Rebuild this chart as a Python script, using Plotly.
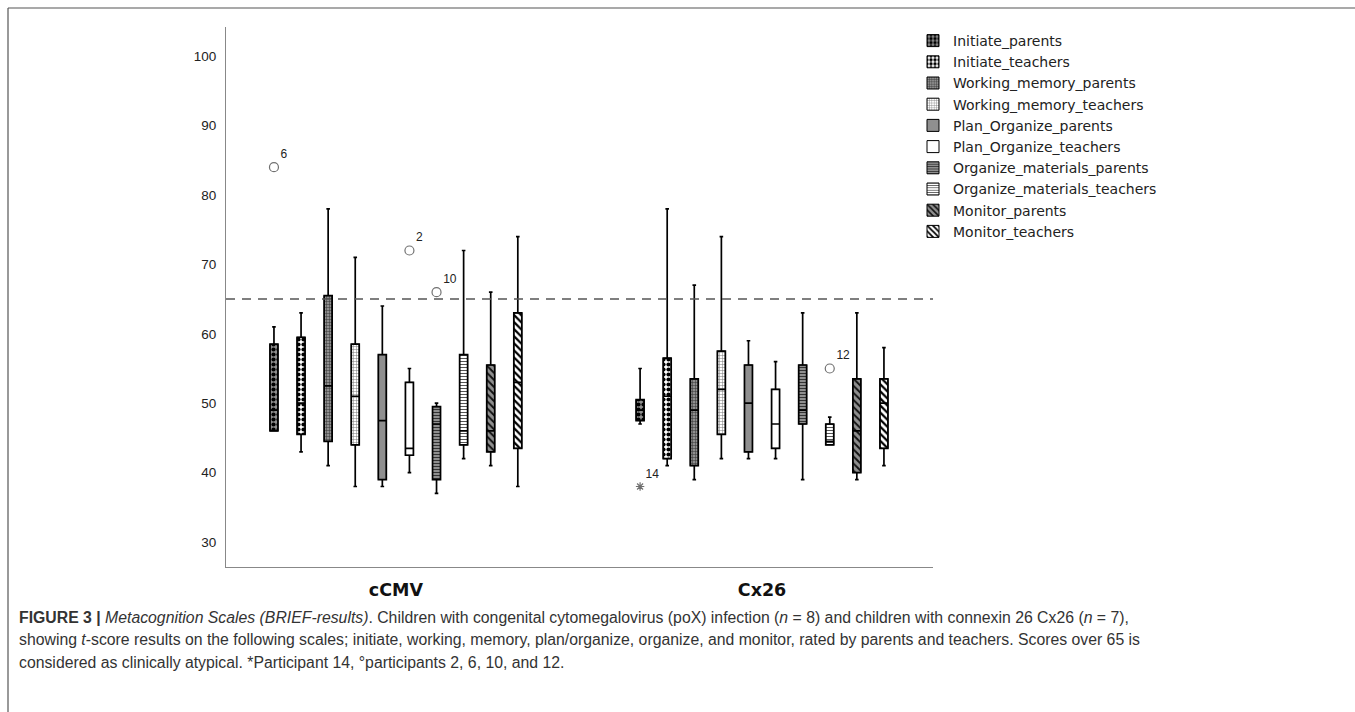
import plotly.graph_objects as go

groups = ["cCMV", "Cx26"]
series = ["Initiate_parents", "Initiate_teachers", "Working_memory_parents", "Working_memory_teachers",
          "Plan_Organize_parents", "Plan_Organize_teachers", "Organize_materials_parents",
          "Organize_materials_teachers", "Monitor_parents", "Monitor_teachers"]

# per series: [cCMV, Cx26]
lowerfence = [[46, 47], [43, 41], [41, 39], [38, 42], [38, 42], [40, 42], [37, 39], [42, 44], [41, 39], [38, 41]]
q1 =         [[46, 47.5], [45.5, 42], [44.5, 41], [44, 45.5], [39, 43], [42.5, 43.5], [39, 47], [44, 44], [43, 40], [43.5, 43.5]]
median =     [[49, 49], [50, 51], [52.5, 49], [51, 52], [47.5, 50], [43.5, 47], [47, 49], [46, 44.5], [46, 46], [53, 50]]
q3 =         [[58.5, 50.5], [59.5, 56.5], [65.5, 53.5], [58.5, 57.5], [57, 55.5], [53, 52], [49.5, 55.5], [57, 47], [55.5, 53.5], [63, 53.5]]
upperfence = [[61, 55], [63, 78], [78, 67], [71, 74], [64, 59], [55, 56], [50, 63], [72, 48], [66, 63], [74, 58]]

# outliers: value and participant label per series [cCMV, Cx26]
out_vals = [[84, 38], [None, None], [None, None], [None, None], [None, None],
            [72, None], [66, None], [None, 55], [None, None], [None, None]]
out_labels = [["6", "14"], ["", ""], ["", ""], ["", ""], ["", ""],
              ["2", ""], ["10", ""], ["", "12"], ["", ""], ["", ""]]
out_extreme = [[False, True]] + [[False, False]] * 9

cutoff = 65
y_ticks = [30, 40, 50, 60, 70, 80, 90, 100]

caption_lines = [
    "<b>FIGURE 3 |</b> <i>Metacognition Scales (BRIEF-results)</i>. Children with congenital cytomegalovirus (poX) infection (<i>n</i> = 8) and children with connexin 26 Cx26 (<i>n</i> = 7),",
    "showing <i>t</i>-score results on the following scales; initiate, working, memory, plan/organize, organize, and monitor, rated by parents and teachers. Scores over 65 is",
    "considered as clinically atypical. *Participant 14, °participants 2, 6, 10, and 12.",
]

GRAY = "#8f8f8f"
WHITE = "#ffffff"
styles = [
    dict(shape=".", bg=GRAY, fg="#000000", size=5, solidity=0.55),
    dict(shape=".", bg=WHITE, fg="#000000", size=5, solidity=0.55),
    dict(shape="+", bg=GRAY, fg="#333333", size=3, solidity=0.3),
    dict(shape="+", bg=WHITE, fg="#777777", size=3, solidity=0.3),
    dict(shape="", bg=GRAY, fg=GRAY, size=4, solidity=0.3),
    dict(shape="", bg=WHITE, fg=WHITE, size=4, solidity=0.3),
    dict(shape="-", bg=GRAY, fg="#333333", size=3, solidity=0.35),
    dict(shape="-", bg=WHITE, fg="#555555", size=3, solidity=0.35),
    dict(shape="\\", bg=GRAY, fg="#111111", size=5, solidity=0.4),
    dict(shape="\\", bg=WHITE, fg="#000000", size=5, solidity=0.45),
]

fig = go.Figure()

GAP = 0.26
GROUPGAP = 0.705

for i, name in enumerate(series):
    st = styles[i]
    fig.add_trace(go.Bar(
        x=groups, y=[q3[i][k] - q1[i][k] for k in range(2)], base=q1[i],
        name=name, showlegend=True, offsetgroup=str(i),
        marker=dict(color=st["bg"], line=dict(color="#000000", width=1),
                    pattern=dict(shape=st["shape"], bgcolor=st["bg"], fgcolor=st["fg"],
                                 size=st["size"], solidity=st["solidity"], fillmode="replace")),
        hoverinfo="skip",
    ))

for i, name in enumerate(series):
    fig.add_trace(go.Box(
        x=groups, q1=q1[i], median=median[i], q3=q3[i],
        lowerfence=lowerfence[i], upperfence=upperfence[i],
        name=name, showlegend=False, boxpoints=False, offsetgroup=str(i),
        fillcolor="rgba(0,0,0,0)", line=dict(color="#000000", width=1.7),
        whiskerwidth=0.45,
    ))

for i, name in enumerate(series):
    fig.add_trace(go.Scatter(
        x=groups, y=out_vals[i], name=name, showlegend=False,
        mode="markers+text", text=out_labels[i], textposition="top right",
        textfont=dict(family="Liberation Sans, Arial", size=12, color="#222222"),
        marker=dict(symbol=["asterisk-open" if e else "circle-open" for e in out_extreme[i]],
                    size=[7 if e else 9 for e in out_extreme[i]],
                    color="#333333", line=dict(width=1.2, color="#333333")),
        offsetgroup=str(i), cliponaxis=False,
    ))

L, R, T, B = 226, 933, 27, 567
W, H = 1355, 712
pw, ph = R - L, B - T


def px(xp):
    return (xp - L) / pw


def py(yp):
    return (B - yp) / ph


shapes = [
    dict(type="line", xref="paper", yref="y", x0=0, x1=1, y0=cutoff, y1=cutoff,
         line=dict(color="#555555", width=1.5, dash="9px,7px")),
    dict(type="line", xref="paper", yref="paper", x0=px(8), x1=px(W), y0=py(8), y1=py(8),
         line=dict(color="#555555", width=1.2)),
    dict(type="line", xref="paper", yref="paper", x0=px(8), x1=px(8), y0=py(8), y1=py(H),
         line=dict(color="#555555", width=1.2)),
]

annotations = []
for j, line in enumerate(caption_lines):
    annotations.append(dict(
        text=line, xref="paper", yref="paper", x=px(17), y=py(617 + j * 22.5),
        xanchor="left", yanchor="middle", showarrow=False, align="left",
        font=dict(family="Liberation Sans, Arial", size=15.8, color="#333333"),
    ))

fig.update_layout(
    width=W, height=H,
    margin=dict(l=L, r=W - R, t=T, b=H - B),
    paper_bgcolor="white", plot_bgcolor="white",
    barmode="group", bargap=GAP, bargroupgap=GROUPGAP,
    boxmode="group", boxgap=GAP, boxgroupgap=GROUPGAP,
    scattermode="group", scattergap=GAP,
    showlegend=True,
    legend=dict(x=px(913), y=py(25), xanchor="left", yanchor="top",
                font=dict(family="DejaVu Sans", size=14, color="#222222"),
                bgcolor="rgba(0,0,0,0)", tracegroupgap=0, itemwidth=30),
    shapes=shapes, annotations=annotations,
    font=dict(family="Liberation Sans, Arial", color="#222222"),
)

fig.update_xaxes(type="category", categoryarray=groups, range=[-0.464, 1.467],
                 showline=True, linecolor="#888888", linewidth=1.2, mirror=False,
                 showgrid=False, zeroline=False, ticks="outside", ticklen=7, tickcolor="rgba(0,0,0,0)",
                 tickfont=dict(family="DejaVu Sans", size=17.5, color="#111111", weight="bold"))
fig.update_yaxes(range=[26.4, 104.2], tickvals=y_ticks,
                 showline=True, linecolor="#888888", linewidth=1.2,
                 showgrid=False, zeroline=False, ticks="outside", ticklen=6, tickcolor="rgba(0,0,0,0)",
                 tickfont=dict(family="Liberation Sans, Arial", size=13.5, color="#222222"))

fig.write_html("out.html")
